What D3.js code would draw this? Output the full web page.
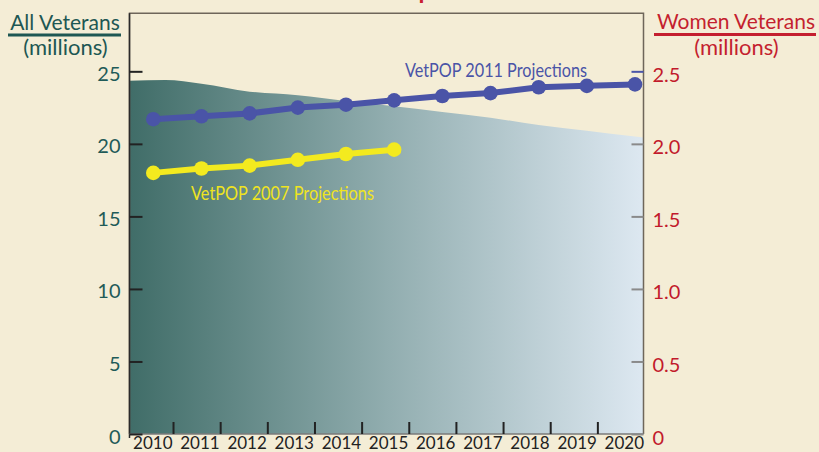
<!DOCTYPE html>
<html><head><meta charset="utf-8">
<script src="https://cdn.jsdelivr.net/npm/d3@7"></script>
<style>html,body{margin:0;padding:0;background:#f4edd6;} svg{display:block}</style>
</head><body><svg id="c" width="819" height="452"></svg>
<script>
// ---- data ----
const years = [2010,2011,2012,2013,2014,2015,2016,2017,2018,2019,2020];
const allVetYears = [2009.5,2010.25,2011,2012,2013,2014,2015,2016,2017,2018,2019,2020,2020.5];
const allVeterans = [24.35,24.4,24.15,23.6,23.35,22.95,22.6,22.2,21.8,21.3,20.9,20.5,20.3]; // millions
const vetpop2011 = [2.17,2.19,2.21,2.25,2.27,2.30,2.33,2.35,2.39,2.40,2.41]; // women veterans, millions
const vetpop2007Years = [2010,2011,2012,2013,2014,2015];
const vetpop2007 = [1.80,1.83,1.85,1.89,1.93,1.96];
const leftTicks = [0,5,10,15,20,25];
const rightTicks = [0,0.5,1.0,1.5,2.0,2.5];
const xTickLabels = ["2010","2011","2012","2013","2014","2015","2016","2017","2018","2019","2020"];

// ---- layout ----
const L = 129.5, R = 643.5, T = 13.3, B = 434;
const svg = d3.select("#c");
const yLeft = d3.scaleLinear().domain([0,29]).range([B, T]);
const yRight = d3.scaleLinear().domain([0,2.9]).range([B, T]);
const xPts = d3.scaleLinear().domain([2010,2020]).range([153.3, 635]);
const xLab = d3.scaleLinear().domain([2010,2020]).range([152.3, 623.8]);

svg.append("rect").attr("width",819).attr("height",452).attr("fill","#f4edd6");

// title (cut off at top)
svg.append("text").attr("x",301).attr("y",-1)
  .attr("font-family","Lato").attr("font-weight","bold").attr("font-size",24)
  .attr("fill","#c8202f").text("Veteran Population");

const defs = svg.append("defs");
const grad = defs.append("linearGradient").attr("id","g").attr("gradientUnits","userSpaceOnUse")
  .attr("x1",L).attr("x2",R).attr("y1",0).attr("y2",0);
grad.append("stop").attr("offset",0).attr("stop-color","#406d68");
grad.append("stop").attr("offset",0.5).attr("stop-color","#91adaf");
grad.append("stop").attr("offset",1).attr("stop-color","#dde8f1");
defs.append("clipPath").attr("id","clip").append("rect")
  .attr("x",L).attr("y",T).attr("width",R-L).attr("height",B-T);

// area
const area = d3.area().x((d,i)=>xPts(allVetYears[i])).y0(B).y1(d=>yLeft(d)).curve(d3.curveMonotoneX);
svg.append("path").datum(allVeterans).attr("d",area).attr("fill","url(#g)").attr("clip-path","url(#clip)");

// frame
svg.append("path").attr("d",`M${L},${B}V${T}H${R}V${B}`).attr("fill","none").attr("stroke","#6e665a").attr("stroke-width",1.5);
svg.append("line").attr("x1",L).attr("x2",L).attr("y1",T).attr("y2",B+4).attr("stroke","#2a2a2a").attr("stroke-width",1.5);
svg.append("line").attr("x1",L).attr("x2",R).attr("y1",B).attr("y2",B).attr("stroke","#7a7a7a").attr("stroke-width",1.5);

// left axis
const la = svg.append("g").attr("transform",`translate(${L},0)`)
  .call(d3.axisLeft(yLeft).tickValues(leftTicks).tickSize(-13).tickPadding(9).tickFormat(d3.format("d")));
la.select(".domain").remove();
la.selectAll(".tick line").attr("stroke","#222").attr("stroke-width",2);
la.selectAll(".tick text").attr("font-family","Lato").attr("font-size",20).attr("fill","#1f5b58").attr("dy","0.45em");

// right axis
const ra = svg.append("g").attr("transform",`translate(${R},0)`)
  .call(d3.axisRight(yRight).tickValues(rightTicks).tickSize(-12).tickPadding(9).tickFormat(d=>d===0?"0":d.toFixed(1)));
ra.select(".domain").remove();
ra.selectAll(".tick line").attr("stroke",d=>d===2.5?"#4a55a8":"#8a8a8a").attr("stroke-width",2);
ra.selectAll(".tick text").attr("font-family","Lato").attr("font-size",20).attr("fill","#c21a2c").attr("dy","0.5em");

// bottom axis
const ba = svg.append("g").attr("transform",`translate(0,${B})`)
  .call(d3.axisBottom(xLab).tickValues(years).tickSize(0).tickPadding(3).tickFormat((d,i)=>xTickLabels[i]));
ba.select(".domain").remove();
ba.selectAll(".tick text").attr("font-family","Lato").attr("font-size",17).attr("fill","#222");
svg.append("g").selectAll("line").data(years.slice(0,10)).join("line")
  .attr("x1",d=>xLab(d+0.45)).attr("x2",d=>xLab(d+0.45)).attr("y1",B).attr("y2",B-12)
  .attr("stroke","#222").attr("stroke-width",2);

// series
function series(xs, ys, color){
  const line = d3.line().x((d,i)=>xPts(xs[i])).y(d=>yRight(d));
  svg.append("path").datum(ys).attr("d",line).attr("fill","none").attr("stroke",color)
    .attr("stroke-width",6).attr("stroke-linejoin","round");
  svg.append("g").selectAll("circle").data(ys).join("circle")
    .attr("cx",(d,i)=>xPts(xs[i])).attr("cy",d=>yRight(d)).attr("r",7.3).attr("fill",color);
}
series(years, vetpop2011, "#4a54a7");
series(vetpop2007Years, vetpop2007, "#f3ea1f");

// series labels
svg.append("text").attr("x",405).attr("y",77).attr("font-family","Lato").attr("font-size",19)
  .attr("textLength",182).attr("lengthAdjust","spacingAndGlyphs").attr("fill","#4a54a7").text("VetPOP 2011 Projections");
svg.append("text").attr("x",191).attr("y",199.5).attr("font-family","Lato").attr("font-size",19)
  .attr("textLength",183).attr("lengthAdjust","spacingAndGlyphs").attr("fill","#efe41f").text("VetPOP 2007 Projections");

// axis titles
svg.append("text").attr("x",65).attr("y",30).attr("text-anchor","middle").attr("font-family","Lato").attr("font-size",21)
  .attr("fill","#1d5753").text("All Veterans");
svg.append("rect").attr("x",8).attr("y",33.5).attr("width",113).attr("height",3).attr("fill","#1d5753");
svg.append("text").attr("x",65.5).attr("y",55).attr("text-anchor","middle").attr("font-family","Lato").attr("font-size",22)
  .attr("fill","#1d5753").text("(millions)");
svg.append("text").attr("x",736).attr("y",29).attr("text-anchor","middle").attr("font-family","Lato").attr("font-size",21)
  .attr("fill","#c41f2f").text("Women Veterans");
svg.append("rect").attr("x",654).attr("y",33).attr("width",162).attr("height",3).attr("fill","#c41f2f");
svg.append("text").attr("x",736.5).attr("y",55).attr("text-anchor","middle").attr("font-family","Lato").attr("font-size",22)
  .attr("fill","#c41f2f").text("(millions)");
</script></body></html>
